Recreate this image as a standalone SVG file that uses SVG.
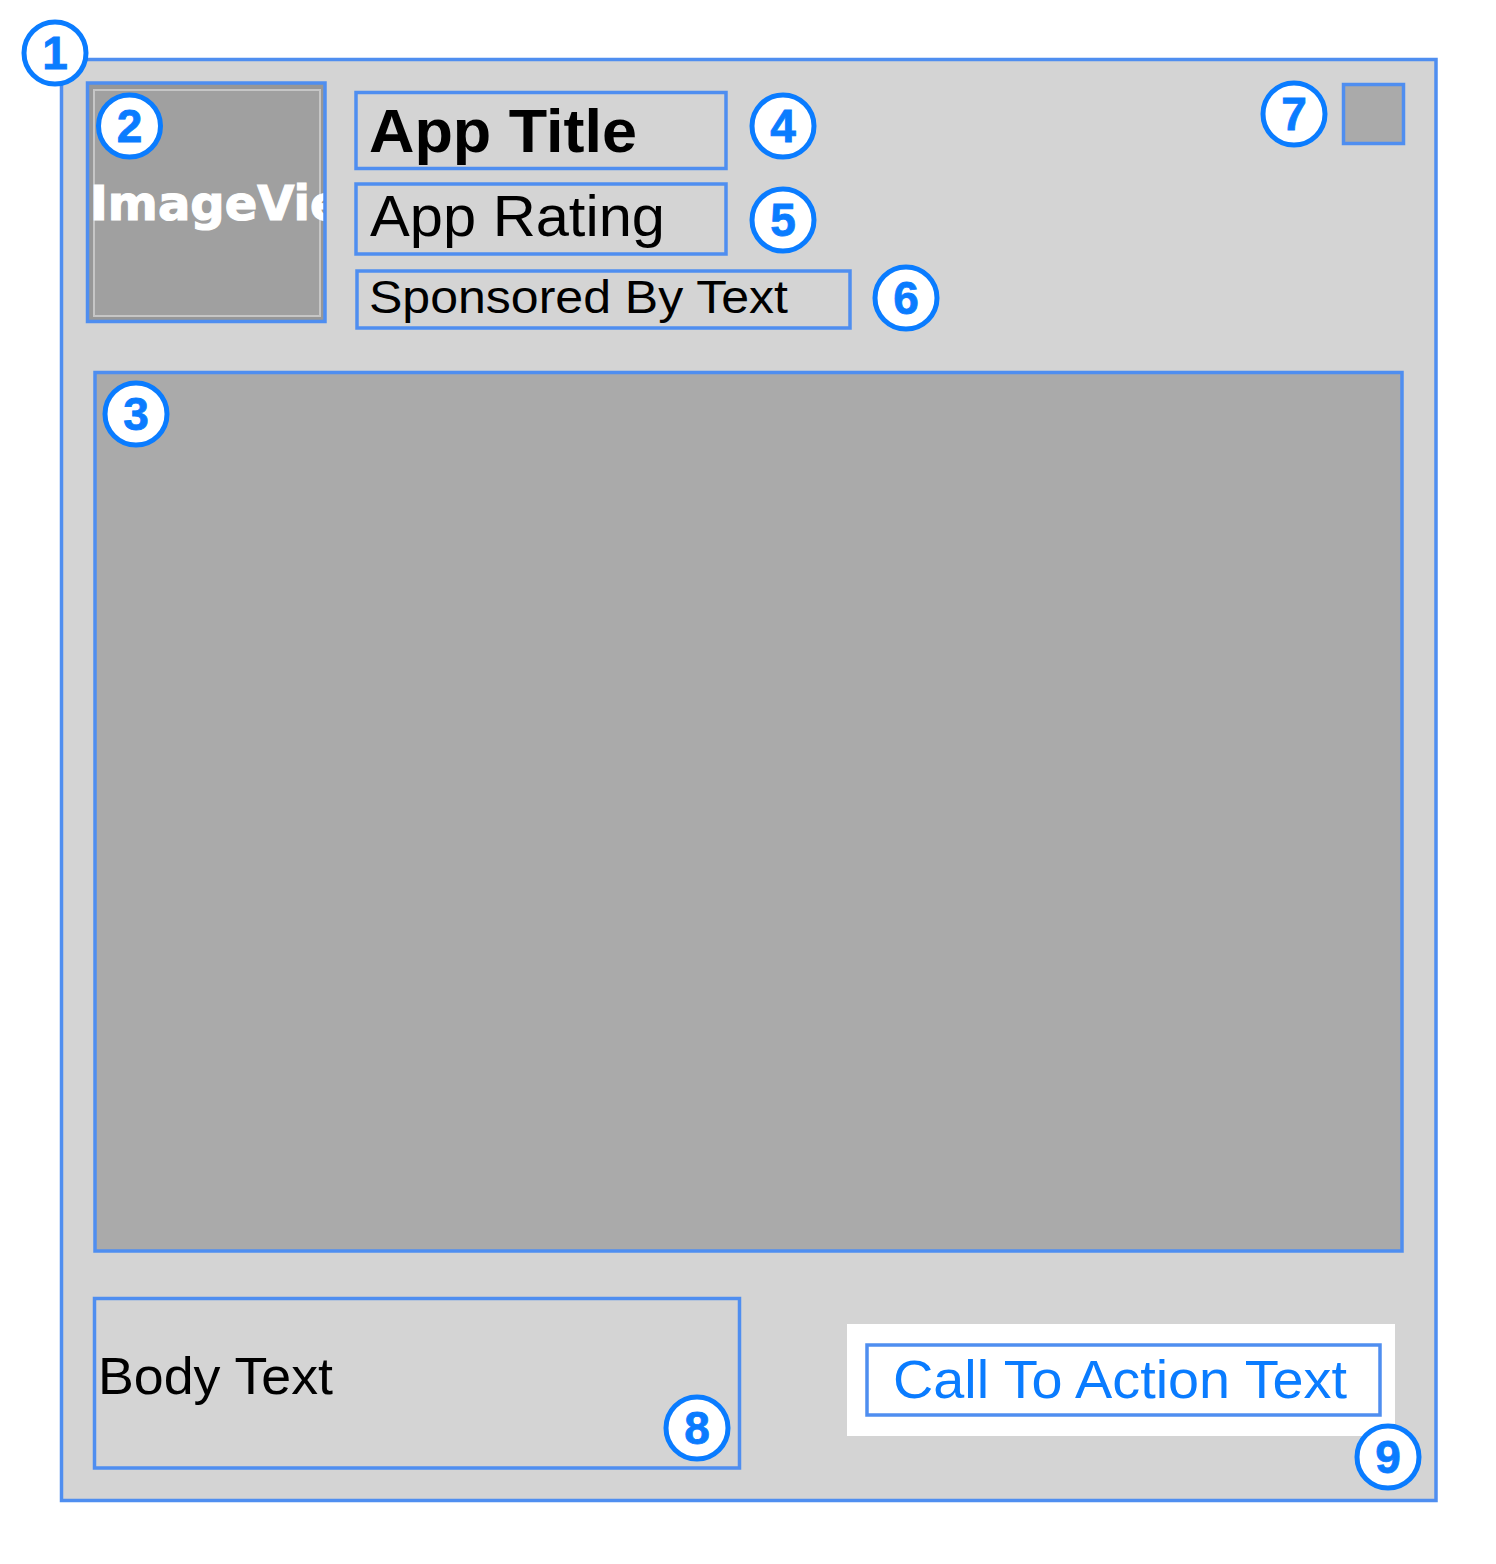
<svg xmlns="http://www.w3.org/2000/svg" width="1496" height="1564" viewBox="0 0 1496 1564">
<style>
.box{fill:none;stroke:#4f8ef0;stroke-width:3.5}
.badge circle{fill:#ffffff;stroke:#0a7cff;stroke-width:5}
.badge text{font-family:"Liberation Sans",Arial,sans-serif;font-weight:bold;font-size:46px;fill:#0a7cff;text-anchor:middle;stroke:#0a7cff;stroke-width:0.8}
.lbl{font-family:"Liberation Sans",Arial,sans-serif;fill:#000000}
</style>
<defs>
<clipPath id="ivclip"><rect x="89" y="84" width="235" height="236"/></clipPath>
</defs>
<rect width="1496" height="1564" fill="#ffffff"/>
<g id="container">
<rect x="61.5" y="59.5" width="1374.5" height="1441" fill="#d4d4d4" stroke="#4f8ef0" stroke-width="3.5"/>
</g>
<g id="image-view">
<rect x="88" y="84" width="237" height="237" fill="#979797"/>
<rect x="94" y="90" width="226" height="226" fill="#a0a0a0" stroke="#c6c6c6" stroke-width="2"/>
<text x="90" y="220" clip-path="url(#ivclip)" font-family="DejaVu Sans,Verdana,sans-serif" font-weight="bold" font-size="48" fill="#ffffff" stroke="#ffffff" stroke-width="1.2">ImageView</text>
<rect x="87.5" y="83" width="237.5" height="238.5" class="box"/>
</g>
<g id="media-view">
<rect x="95" y="372.5" width="1307" height="878.5" fill="#aaaaaa" stroke="#4f8ef0" stroke-width="3.5"/>
</g>
<g id="app-title">
<rect x="356" y="92.5" width="370" height="76" class="box"/>
<text x="369" y="152" class="lbl" font-weight="bold" font-size="62" textLength="268" lengthAdjust="spacingAndGlyphs">App Title</text>
</g>
<g id="app-rating">
<rect x="356" y="184" width="370" height="70" class="box"/>
<text x="370" y="236" class="lbl" font-size="57" textLength="295" lengthAdjust="spacingAndGlyphs">App Rating</text>
</g>
<g id="sponsored">
<rect x="357" y="271" width="493" height="57" class="box"/>
<text x="369" y="313" class="lbl" font-size="46" textLength="419" lengthAdjust="spacingAndGlyphs">Sponsored By Text</text>
</g>
<g id="choices-view">
<rect x="1343.5" y="84.5" width="60" height="59" fill="#aaaaaa" stroke="#4f8ef0" stroke-width="3.5"/>
</g>
<g id="body-text">
<rect x="94.5" y="1298.5" width="645" height="169.5" class="box"/>
<text x="98" y="1394" class="lbl" font-size="52" textLength="235" lengthAdjust="spacingAndGlyphs">Body Text</text>
</g>
<g id="call-to-action">
<rect x="847" y="1324" width="548" height="112" fill="#ffffff"/>
<rect x="867" y="1345" width="513" height="70" class="box"/>
<text x="893" y="1398" font-family="Liberation Sans,Arial,sans-serif" font-size="53" fill="#0a7cff" textLength="454" lengthAdjust="spacingAndGlyphs">Call To Action Text</text>
</g>
<g id="badges">
<g class="badge" id="badge-1"><circle cx="55" cy="53" r="31"/><text x="55" y="69">1</text></g>
<g class="badge" id="badge-2"><circle cx="129.5" cy="126" r="31"/><text x="129.5" y="142">2</text></g>
<g class="badge" id="badge-3"><circle cx="136" cy="414" r="31"/><text x="136" y="430">3</text></g>
<g class="badge" id="badge-4"><circle cx="783" cy="126" r="31"/><text x="783" y="142">4</text></g>
<g class="badge" id="badge-5"><circle cx="783" cy="220" r="31"/><text x="783" y="236">5</text></g>
<g class="badge" id="badge-6"><circle cx="906" cy="298" r="31"/><text x="906" y="314">6</text></g>
<g class="badge" id="badge-7"><circle cx="1294" cy="114" r="31"/><text x="1294" y="130">7</text></g>
<g class="badge" id="badge-8"><circle cx="697" cy="1428" r="31"/><text x="697" y="1444">8</text></g>
<g class="badge" id="badge-9"><circle cx="1388" cy="1457" r="31"/><text x="1388" y="1473">9</text></g>
</g>
<g id="connectors"></g>
</svg>
